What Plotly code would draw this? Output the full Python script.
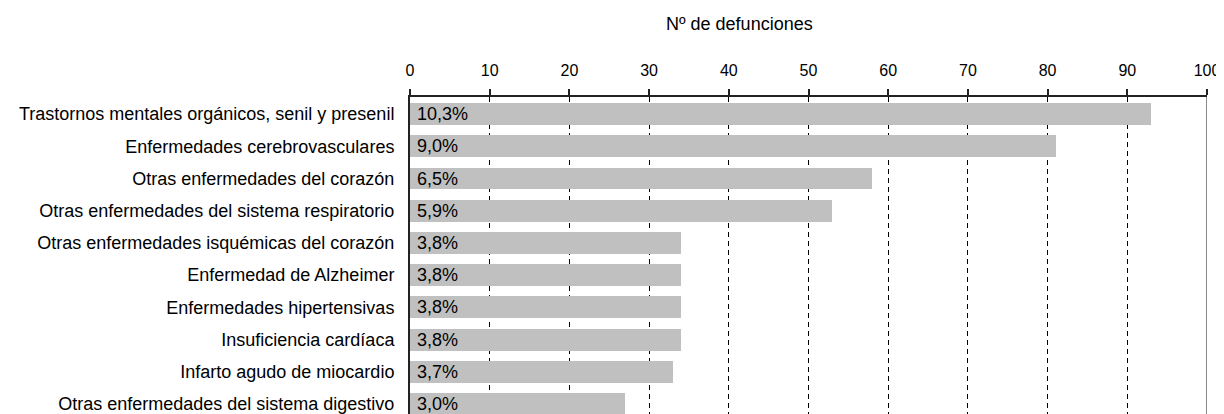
import plotly.graph_objects as go

categories = [
    "Trastornos mentales orgánicos, senil y presenil",
    "Enfermedades cerebrovasculares",
    "Otras enfermedades del corazón",
    "Otras enfermedades del sistema respiratorio",
    "Otras enfermedades isquémicas del corazón",
    "Enfermedad de Alzheimer",
    "Enfermedades hipertensivas",
    "Insuficiencia cardíaca",
    "Infarto agudo de miocardio",
    "Otras enfermedades del sistema digestivo",
]
values = [93, 81, 58, 53, 34, 34, 34, 34, 33, 27]
pct_labels = ["10,3%", "9,0%", "6,5%", "5,9%", "3,8%", "3,8%", "3,8%", "3,8%", "3,7%", "3,0%"]
x_ticks = [0, 10, 20, 30, 40, 50, 60, 70, 80, 90, 100]
axis_title = "Nº de defunciones"

FONT = "Liberation Sans, Arial, sans-serif"
pos = list(range(len(categories)))

fig = go.Figure()
fig.add_trace(go.Bar(
    x=values, y=pos, orientation="h",
    marker=dict(color="#C0C0C0", line=dict(width=0)),
    width=0.68, hoverinfo="skip",
))

for p, lab in zip(pos, pct_labels):
    fig.add_annotation(x=0, y=p, xref="x", yref="y", text=lab, showarrow=False,
                       xanchor="left", yanchor="middle", xshift=5,
                       font=dict(family=FONT, size=18, color="#000"))

fig.add_annotation(x=41.4, y=1.23, xref="x", yref="paper", text=axis_title,
                   showarrow=False, xanchor="center", yanchor="middle",
                   font=dict(family=FONT, size=18, color="#000"))

fig.add_shape(type="line", xref="x", yref="paper", x0=100, x1=100, y0=0, y1=1,
              line=dict(color="#8a8a8a", width=2))

fig.update_layout(
    width=1216, height=406,
    margin=dict(l=402, r=17, t=89, b=0, pad=0),
    paper_bgcolor="white", plot_bgcolor="white",
    showlegend=False,
    font=dict(family=FONT, size=16, color="#000"),
    bargap=0,
)
fig.update_xaxes(
    side="top", range=[0, 100], tickvals=x_ticks,
    showline=True, linecolor="#222", linewidth=2,
    ticks="outside", ticklen=6, tickwidth=1.5, tickcolor="#222",
    showgrid=True, gridcolor="#000", gridwidth=1, griddash="5px,4px",
    zeroline=False, tickfont=dict(family=FONT, size=16, color="#000"),
    ticklabelstandoff=7, ticklabeloverflow="allow",
)
fig.update_yaxes(
    range=[9.31, -0.53], tickvals=pos, ticktext=categories,
    showline=True, linecolor="#222", linewidth=2,
    ticks="", showgrid=False, zeroline=False,
    tickfont=dict(family=FONT, size=18, color="#000"),
    ticklabelstandoff=10, ticklabeloverflow="allow",
)

fig.write_html("out.html")
